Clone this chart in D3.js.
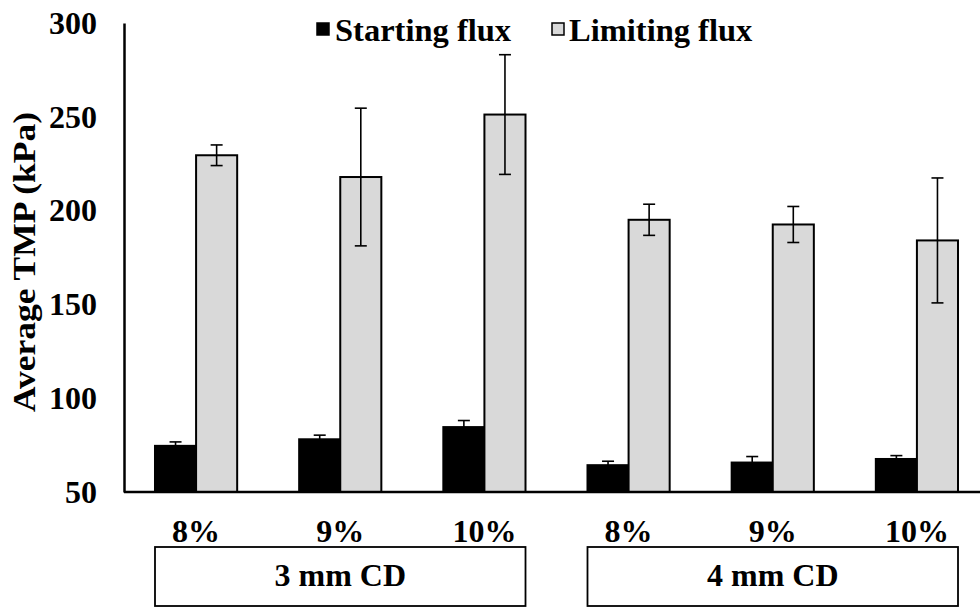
<!DOCTYPE html>
<html>
<head>
<meta charset="utf-8">
<script src="https://cdn.jsdelivr.net/npm/d3@7"></script>
<style>
  body { margin: 0; background: #fff; }
  svg text { font-family: "Liberation Serif", "Times New Roman", Times, serif !important; font-weight: bold; fill: #000; }
</style>
</head>
<body>
<svg width="980" height="608"></svg>
<script>
// categories and groups
var categories = ["8%", "9%", "10%", "8%", "9%", "10%"];
var groups = ["3 mm CD", "4 mm CD"];
var seriesNames = ["Starting flux", "Limiting flux"];

// average TMP (kPa) and error
var startingFlux = [74.6, 78.1, 84.6, 64.3, 65.7, 67.6];
var startingErr = [2.1, 2.2, 3.5, 2.1, 3.2, 1.8];
var limitingFlux = [229.5, 217.9, 251.2, 195.1, 192.6, 184.1];
var limitingErr = [5.5, 36.7, 31.9, 8.3, 9.6, 33.3];

var yTicks = [50, 100, 150, 200, 250, 300];

var svg = d3.select("svg");

var x = d3.scaleBand()
    .domain(d3.range(categories.length))
    .range([124, 989])
    .paddingInner(0.43)
    .paddingOuter(0.215);

var xs = d3.scaleBand()
    .domain([0, 1])
    .range([0, x.bandwidth()]);

var y = d3.scaleLinear()
    .domain([50, 300])
    .range([492, 23]);

var rows = categories.map(function(c, i) {
  return [
    { i: i, s: 0, v: startingFlux[i], e: startingErr[i] },
    { i: i, s: 1, v: limitingFlux[i], e: limitingErr[i] }
  ];
});
var flat = d3.merge(rows);
var fills = ["#000000", "#d9d9d9"];

// bars
svg.append("g").selectAll("rect")
    .data(flat)
  .enter().append("rect")
    .attr("x", function(d) { return x(d.i) + xs(d.s); })
    .attr("y", function(d) { return y(d.v); })
    .attr("width", xs.bandwidth())
    .attr("height", function(d) { return y(50) - y(d.v); })
    .attr("fill", function(d) { return fills[d.s]; })
    .attr("stroke", "#000")
    .attr("stroke-width", 2);

// error bars
var eb = svg.append("g").attr("stroke", "#000").attr("stroke-width", 1.6)
  .selectAll("g").data(flat).enter().append("g")
    .attr("transform", function(d) { return "translate(" + (x(d.i) + xs(d.s) + xs.bandwidth() / 2) + ",0)"; });
eb.append("line")
    .attr("y1", function(d) { return y(d.v + d.e); })
    .attr("y2", function(d) { return y(d.v - d.e); });
eb.append("line").attr("x1", -6).attr("x2", 6)
    .attr("y1", function(d) { return y(d.v + d.e); })
    .attr("y2", function(d) { return y(d.v + d.e); });
eb.append("line").attr("x1", -6).attr("x2", 6)
    .attr("y1", function(d) { return y(d.v - d.e); })
    .attr("y2", function(d) { return y(d.v - d.e); });

// y axis
var yAxis = svg.append("g")
    .attr("transform", "translate(124,0)")
    .call(d3.axisLeft(y).tickValues(yTicks).tickSize(0).tickPadding(27));
yAxis.select(".domain").attr("stroke", "#000").attr("stroke-width", 2.5);
yAxis.selectAll("text").style("font-size", "32px");

// x baseline
svg.append("line")
    .attr("x1", 124).attr("x2", 980)
    .attr("y1", y(50)).attr("y2", y(50))
    .attr("stroke", "#000").attr("stroke-width", 2.5);

// category labels
svg.append("g").selectAll("text")
    .data(categories)
  .enter().append("text")
    .attr("x", function(d, i) { return x(i) + x.bandwidth() / 2; })
    .attr("y", 542)
    .attr("text-anchor", "middle")
    .style("font-size", "32px")
    .text(function(d) { return d; });

// group boxes
groups.forEach(function(g, k) {
  var x0 = x(k * 3), x1 = x(k * 3 + 2) + x.bandwidth();
  svg.append("rect")
      .attr("x", x0).attr("y", 547)
      .attr("width", x1 - x0).attr("height", 59)
      .attr("fill", "none").attr("stroke", "#000").attr("stroke-width", 1.8);
  svg.append("text")
      .attr("x", (x0 + x1) / 2).attr("y", 586)
      .attr("text-anchor", "middle")
      .style("font-size", "32px")
      .text(g);
});

// y title
svg.append("text")
    .attr("transform", "translate(35,262) rotate(-90)")
    .attr("text-anchor", "middle")
    .attr("textLength", 300)
    .attr("lengthAdjust", "spacingAndGlyphs")
    .style("font-size", "32px")
    .text("Average TMP (kPa)");

// legend
var legendX = [317, 552];
seriesNames.forEach(function(n, k) {
  svg.append("rect")
      .attr("x", legendX[k]).attr("y", 23)
      .attr("width", 12).attr("height", 12)
      .attr("fill", fills[k]).attr("stroke", "#000").attr("stroke-width", 1.5);
  svg.append("text")
      .attr("x", legendX[k] + 18 - k).attr("y", 41)
      .style("font-size", "32.5px")
      .text(n);
});
</script>
</body>
</html>
